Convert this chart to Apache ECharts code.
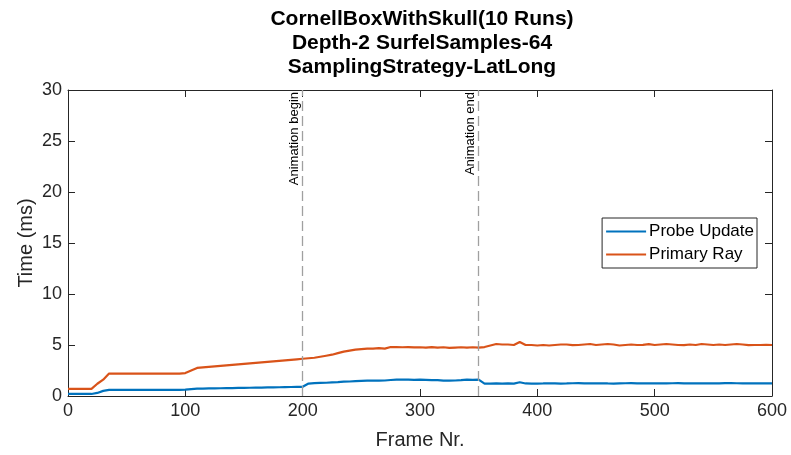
<!DOCTYPE html>
<html>
<head>
<meta charset="utf-8">
<script src="https://cdn.jsdelivr.net/npm/echarts@6/dist/echarts.min.js"></script>
<style>
  html, body { margin: 0; padding: 0; background: #fff; }
  #chart { width: 791px; height: 455px; }
</style>
</head>
<body>
<div id="chart"></div>
<script>
// frames sampled every 5
const frames = [];
for (let f = 0; f <= 600; f += 5) frames.push(f);

const probeUpdate = [
  0.2, 0.2, 0.2, 0.2, 0.2, 0.3, 0.5, 0.6, 0.6, 0.6,
  0.6, 0.6, 0.6, 0.6, 0.6, 0.6, 0.6, 0.6, 0.6, 0.6,
  0.62, 0.68, 0.72, 0.73, 0.74, 0.75, 0.76, 0.77, 0.78, 0.79,
  0.8, 0.81, 0.82, 0.83, 0.84, 0.85, 0.86, 0.87, 0.88, 0.89,
  0.9, 1.22, 1.26, 1.28, 1.3, 1.33, 1.36, 1.4, 1.42, 1.45,
  1.48, 1.5, 1.5, 1.5, 1.52, 1.57, 1.6, 1.6, 1.6, 1.58,
  1.6, 1.58, 1.56, 1.55, 1.5, 1.5, 1.52, 1.55, 1.6, 1.58,
  1.6, 1.22, 1.22, 1.23, 1.22, 1.24, 1.22, 1.35, 1.23, 1.22,
  1.22, 1.23, 1.25, 1.24, 1.22, 1.23, 1.25, 1.26, 1.24, 1.23,
  1.24, 1.25, 1.23, 1.22, 1.24, 1.25, 1.26, 1.24, 1.23, 1.25,
  1.24, 1.23, 1.24, 1.25, 1.26, 1.24, 1.23, 1.24, 1.25, 1.24,
  1.23, 1.24, 1.26, 1.27, 1.25, 1.24, 1.23, 1.24, 1.24, 1.23,
  1.24
];

const primaryRay = [
  0.7, 0.7, 0.7, 0.7, 0.7, 1.2, 1.6, 2.2, 2.2, 2.2,
  2.2, 2.2, 2.2, 2.2, 2.2, 2.2, 2.2, 2.2, 2.2, 2.2,
  2.25, 2.5, 2.75, 2.8, 2.85, 2.9, 2.95, 3.0, 3.05, 3.1,
  3.15, 3.2, 3.25, 3.3, 3.35, 3.4, 3.45, 3.5, 3.55, 3.6,
  3.65, 3.7, 3.75, 3.85, 3.95, 4.05, 4.2, 4.35, 4.45, 4.55,
  4.6, 4.65, 4.65, 4.7, 4.65, 4.8, 4.8, 4.78, 4.8, 4.77,
  4.78, 4.75, 4.8, 4.75, 4.78, 4.72, 4.75, 4.78, 4.75, 4.78,
  4.75, 4.8, 4.95, 5.1, 5.05, 5.05, 5.0, 5.3, 5.0, 5.0,
  4.95, 5.0, 4.95, 5.0, 5.05, 5.05, 4.98, 5.0, 5.05, 5.1,
  5.0, 5.05, 5.1, 5.05, 4.95, 5.0, 5.05, 5.0, 5.02, 5.08,
  5.0, 5.05, 5.1, 5.05, 5.0, 4.98, 5.05, 5.0, 5.1, 5.05,
  5.0, 5.05, 5.0, 5.05, 5.1, 5.05, 4.98, 5.0, 5.0, 5.02,
  5.0
];

const animationMarks = [
  { frame: 200, label: 'Animation begin' },
  { frame: 350, label: 'Animation end' }
];

const titleLines = ['CornellBoxWithSkull(10 Runs)', 'Depth-2 SurfelSamples-64', 'SamplingStrategy-LatLong'];

const axisColor = '#262626';
const font = 'Liberation Sans, Arial, sans-serif';

function zip(xs, ys) {
  return xs.map((x, i) => [x, ys[i]]);
}

// MATLAB style box: line plus inward ticks, no grid
function boxAxis(showLabels) {
  return {
    axisLine: { show: true, onZero: false, lineStyle: { color: axisColor, width: 1 } },
    axisTick: { show: true, inside: true, length: 7, lineStyle: { color: axisColor } },
    axisLabel: showLabels
      ? { show: true, fontFamily: font, fontSize: 18, color: axisColor, margin: 6 }
      : { show: false },
    splitLine: { show: false }
  };
}

let chartElem = document.getElementById('chart');
let chart = echarts.init(chartElem);

chart.setOption({
  animation: false,
  backgroundColor: '#fff',
  title: {
    text: titleLines.join('\n'),
    left: 417,
    textAlign: 'center',
    top: 2,
    textStyle: { fontFamily: font, fontSize: 21, fontWeight: 'bold', color: '#000', lineHeight: 24 }
  },
  legend: {
    orient: 'vertical',
    right: 34,
    top: 218,
    itemWidth: 40,
    itemHeight: 2,
    itemGap: 6,
    padding: [5, 3, 5, 4],
    borderColor: axisColor,
    borderWidth: 1,
    backgroundColor: '#fff',
    icon: 'rect',
    textStyle: { fontFamily: font, fontSize: 17, color: '#000', padding: [0, 0, 0, -2] },
    data: ['Probe Update', 'Primary Ray']
  },
  grid: { left: 68, right: 19, top: 90, bottom: 59, outerBoundsMode: 'none', containLabel: false },
  xAxis: [{
    type: 'value', min: 0, max: 600, interval: 100, position: 'bottom',
    name: 'Frame Nr.', nameLocation: 'middle', nameGap: 34, nameMoveOverlap: false,
    nameTextStyle: { fontFamily: font, fontSize: 20, color: axisColor },
    ...boxAxis(true)
  }, {
    type: 'value', min: 0, max: 600, interval: 100, position: 'top',
    ...boxAxis(false)
  }],
  yAxis: [{
    type: 'value', min: 0, max: 30, interval: 5, position: 'left',
    name: 'Time (ms)', nameLocation: 'middle', nameGap: 32, nameMoveOverlap: false,
    nameTextStyle: { fontFamily: font, fontSize: 20, color: axisColor },
    ...boxAxis(true)
  }, {
    type: 'value', min: 0, max: 30, interval: 5, position: 'right',
    ...boxAxis(false)
  }],
  series: [{
    name: 'Probe Update',
    type: 'line',
    data: zip(frames, probeUpdate),
    showSymbol: false,
    lineStyle: { color: '#0072BD', width: 2.2 },
    itemStyle: { color: '#0072BD' },
    z: 3,
    markLine: {
      silent: true,
      symbol: 'none',
      lineStyle: { color: '#a0a0a0', type: [10, 5], width: 1.3 },
      label: {
        position: 'insideEndTop',
        fontFamily: font, fontSize: 13, color: '#000',
        distance: 2
      },
      data: animationMarks.map(m => ({ xAxis: m.frame, label: { formatter: m.label } }))
    }
  }, {
    name: 'Primary Ray',
    type: 'line',
    data: zip(frames, primaryRay),
    showSymbol: false,
    lineStyle: { color: '#D95319', width: 2.2 },
    itemStyle: { color: '#D95319' },
    z: 3
  }]
});
</script>
</body>
</html>
